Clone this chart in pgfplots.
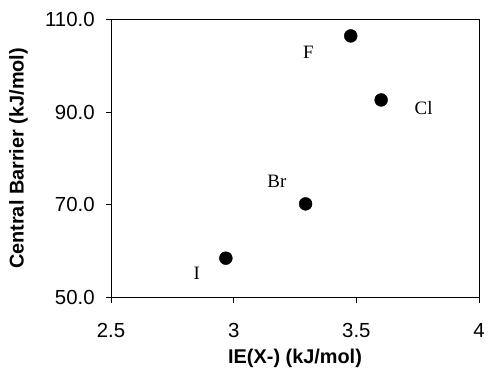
\documentclass[border=0pt]{standalone}
\usepackage{fontspec}
\setmainfont{Liberation Serif}
\setsansfont{Liberation Sans}
\usepackage{pgfplots}
\pgfplotsset{compat=1.18}
\newcommand{\tl}[1]{{\fontsize{20.5}{24}\selectfont\sffamily #1}}
\begin{document}
\begin{tikzpicture}
\begin{axis}[
  name=ax,
  scale only axis,
  width=370pt, height=280pt,
  xmin=2.5, xmax=4, ymin=50, ymax=110,
  xtick={2.5,3,3.5,4},
  xticklabels={\tl{2.5},\tl{3},\tl{3.5},\tl{4}},
  ytick={50,70,90,110},
  yticklabels={\tl{50.0},\tl{70.0},\tl{90.0},\tl{110.0}},
  tick align=outside,
  major tick length=5pt,
  xtick pos=bottom, ytick pos=left,
  axis line style={line width=0.9pt},
  tick style={line width=0.9pt, black},
  xticklabel style={yshift=-17pt},
  yticklabel style={xshift=-8pt},
  xlabel={\textbf{IE(X-) (kJ/mol)}},
  ylabel={\textbf{Central Barrier (kJ/mol)}},
  label style={font=\fontsize{20}{24}\selectfont\sffamily},
  xlabel style={at={(axis description cs:0.5,0)}, anchor=center, yshift=-61pt},
  ylabel style={at={(axis description cs:0,0.5)}, anchor=center, xshift=0pt, yshift=93pt},
  clip=false,
]
\addplot[only marks, mark=*, mark size=6.5pt, black] coordinates {
  (3.477,106.4) (3.601,92.6) (3.293,70.2) (2.968,58.5)
};
\node[font=\fontsize{19}{22}\selectfont] at (axis cs:3.304,102.9) {F};
\node[font=\fontsize{19}{22}\selectfont] at (axis cs:3.774,90.9) {Cl};
\node[font=\fontsize{19}{22}\selectfont] at (axis cs:3.176,75.0) {Br};
\node[font=\fontsize{19}{22}\selectfont] at (axis cs:2.849,55.2) {I};
\end{axis}
\path ([shift={(-111.7pt,-71.7pt)}]ax.south west) rectangle ([shift={(6.3pt,19.3pt)}]ax.north east);
\end{tikzpicture}
\end{document}
